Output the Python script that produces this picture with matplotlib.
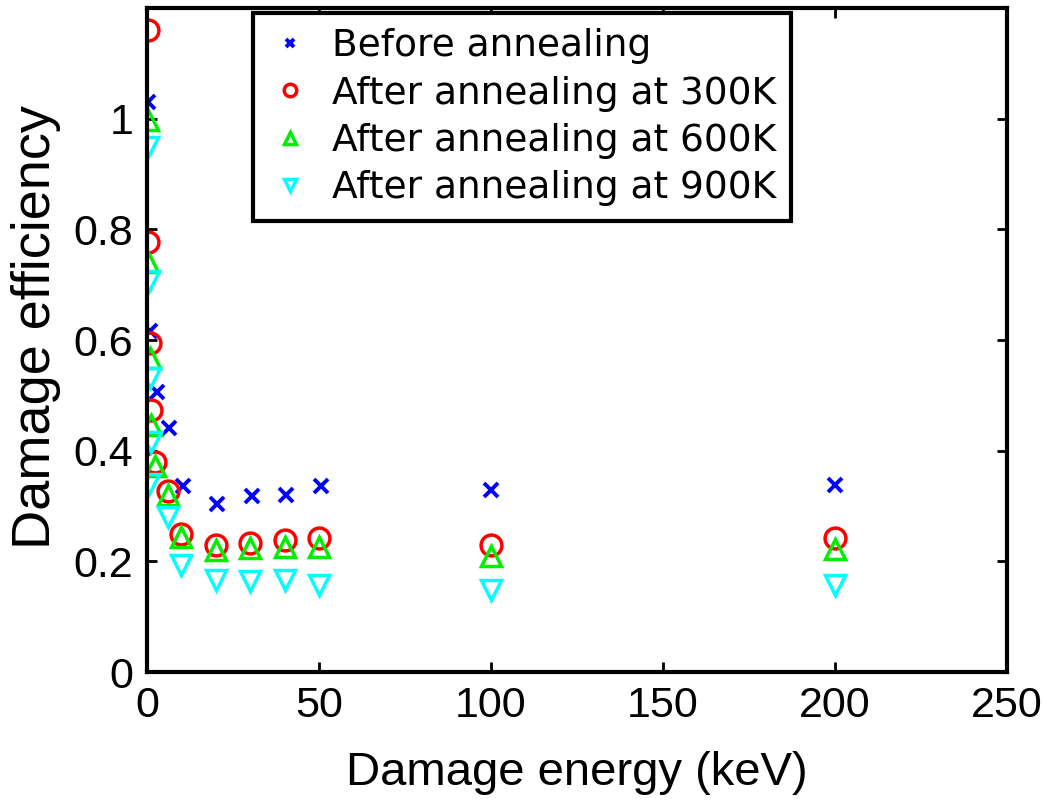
import matplotlib.pyplot as plt
from matplotlib import font_manager

# damage efficiency vs damage energy (keV)
before_e = [0.3, 0.8, 2.8, 6.5, 10.5, 20.4, 30.5, 40.4, 50.5, 100, 200]
before_eff = [1.03, 0.616, 0.507, 0.442, 0.337, 0.304, 0.318, 0.321, 0.337, 0.330, 0.339]

k300_e = [0.3, 0.3, 0.8, 1.2, 2.3, 6, 10, 20, 30, 40, 50, 100, 200]
k300_eff = [1.16, 0.778, 0.594, 0.473, 0.380, 0.327, 0.250, 0.230, 0.234, 0.239, 0.243, 0.230, 0.243]

k600_e = [0.3, 0.3, 0.8, 1.2, 2.3, 6, 10, 20, 30, 40, 50, 100, 200]
k600_eff = [0.997, 0.741, 0.567, 0.447, 0.372, 0.320, 0.245, 0.220, 0.225, 0.227, 0.227, 0.210, 0.223]

k900_e = [0.3, 0.6, 0.8, 1.0, 0.5, 6, 10, 20, 30, 40, 50, 100, 200]
k900_eff = [0.949, 0.707, 0.532, 0.415, 0.340, 0.281, 0.194, 0.167, 0.164, 0.167, 0.158, 0.149, 0.158]

names = [f.name for f in font_manager.fontManager.ttflist]
tick_font = 'Liberation Sans Narrow' if 'Liberation Sans Narrow' in names else 'Liberation Sans'

fig = plt.figure(figsize=(10.43, 8.05), dpi=100)
ax = fig.add_axes([0.141, 0.165, 0.8245, 0.825])

ax.plot(before_e, before_eff, 'x', color='blue', ms=10, mew=2.8, linestyle='none', label='Before annealing')
ax.plot(k300_e, k300_eff, 'o', color='red', mfc='none', ms=15, mew=2.5, linestyle='none', label='After annealing at 300K')
ax.plot(k600_e, k600_eff, '^', color='#00ee00', mfc='none', ms=15, mew=2.5, linestyle='none', label='After annealing at 600K')
ax.plot(k900_e, k900_eff, 'v', color='cyan', mfc='none', ms=15, mew=2.5, linestyle='none', label='After annealing at 900K')

ax.set_xlim(0, 250)
ax.set_ylim(0, 1.2)
ax.set_xticks([0, 50, 100, 150, 200, 250])
ax.set_yticks([0, 0.2, 0.4, 0.6, 0.8, 1.0])
ax.set_yticklabels(['0', '0.2', '0.4', '0.6', '0.8', '1'])

for s in ax.spines.values():
    s.set_linewidth(3)
ax.tick_params(direction='in', top=True, right=True, length=7, width=2, labelsize=31, pad=10)
for lab in ax.get_xticklabels() + ax.get_yticklabels():
    lab.set_family(tick_font)

ax.set_xlabel('Damage energy (keV)', fontsize=34, family=tick_font, labelpad=18)
ax.set_ylabel('Damage efficiency', fontsize=39, family=tick_font)
ax.yaxis.set_label_coords(-0.1, 0.52)

leg = ax.legend(loc='upper left', bbox_to_anchor=(0.123, 0.992), fontsize=27, frameon=True,
                fancybox=False, framealpha=1, edgecolor='black', handlelength=1.2,
                handletextpad=0.5, labelspacing=0.3, borderpad=0.4, borderaxespad=0,
                markerscale=0.6)
leg.get_frame().set_linewidth(3)

fig.savefig('out.png', dpi=100)
